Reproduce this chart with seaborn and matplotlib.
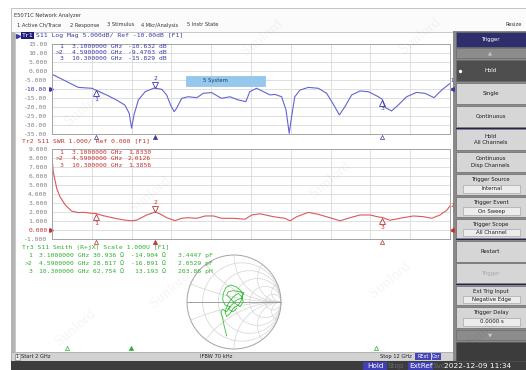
import matplotlib
matplotlib.use("Agg")
import matplotlib.pyplot as plt
from matplotlib.patches import Rectangle, Circle
from matplotlib.transforms import offset_copy, blended_transform_factory
import pandas as pd
import seaborn as sns

# ---------------- data ----------------
logmag_freq = [2.00, 2.21, 2.37, 2.66, 3.00, 3.10, 3.37, 3.62, 3.83, 3.94, 4.00, 4.06, 4.17,
               4.34, 4.55, 4.59, 4.76, 4.88, 4.98, 5.07, 5.13, 5.26, 5.42, 5.64, 5.80, 6.01,
               6.26, 6.47, 6.68, 6.87, 6.97, 7.14, 7.23, 7.48, 7.60, 7.77, 7.88, 7.96, 8.02,
               8.10, 8.23, 8.44, 8.69, 8.90, 9.08, 9.22, 9.36, 9.53, 9.74, 9.95, 10.20, 10.30,
               10.37, 10.53, 10.70, 10.91, 11.16, 11.37, 11.60, 11.79, 12.00]
logmag_db = [-1.8, -4.1, -5.9, -9.1, -9.6, -10.6, -13.3, -16.1, -18.9, -23.5, -31.8, -24.4, -16.1,
             -11.5, -9.6, -9.5, -10.2, -13.3, -18.9, -22.6, -20.7, -15.2, -14.3, -14.8, -12.4, -12.0,
             -15.2, -14.3, -16.1, -17.0, -11.5, -9.6, -10.6, -13.3, -13.0, -14.3, -21.7, -34.6, -25.4,
             -14.3, -10.6, -9.1, -9.6, -12.4, -18.9, -24.4, -19.8, -13.3, -11.1, -11.5, -14.3, -15.8,
             -20.2, -22.2, -18.9, -14.3, -11.9, -12.4, -14.8, -10.6, -6.9]

swr_freq = [2.00, 2.03, 2.12, 2.20, 2.33, 2.49, 2.66, 2.79, 3.00, 3.10, 3.29, 3.58, 3.83, 4.00,
            4.13, 4.38, 4.56, 4.59, 4.71, 4.88, 5.09, 5.26, 5.42, 5.64, 5.85, 6.06, 6.26, 6.56,
            6.85, 7.02, 7.23, 7.56, 7.85, 7.98, 8.15, 8.44, 8.69, 8.98, 9.24, 9.49, 9.74, 9.99,
            10.20, 10.30, 10.49, 10.74, 11.08, 11.33, 11.54, 11.75, 11.92, 12.00]
swr_val = [8.15, 6.5, 4.6, 3.7, 2.8, 2.1, 1.93, 1.97, 1.85, 1.83, 1.59, 1.30, 1.10, 1.02,
           1.10, 1.67, 1.95, 2.01, 1.80, 1.37, 1.04, 1.30, 1.37, 1.30, 1.56, 1.56, 1.30, 1.30,
           1.20, 1.67, 1.80, 1.48, 1.30, 1.02, 1.48, 1.96, 1.74, 1.37, 1.02, 1.37, 1.67, 1.67,
           1.45, 1.39, 1.08, 1.30, 1.56, 1.48, 1.30, 1.67, 2.20, 2.67]

# reflection coefficient path on the Smith chart (real, imag)
smith_re = [-0.156, -0.177, -0.206, -0.227, -0.248, -0.277, -0.241, -0.156, -0.085, -0.191,
            -0.241, -0.227, -0.170, -0.071, 0.043, 0.128, 0.184, 0.163, 0.092, -0.014,
            -0.085, -0.156, -0.191, -0.121, -0.014, 0.092, 0.163, 0.199, 0.128, 0.021,
            -0.085, -0.156, -0.121, -0.014, 0.113, 0.213, 0.163, 0.057, -0.050, -0.121,
            -0.014, 0.057]
smith_im = [-0.723, -0.631, -0.525, -0.418, -0.312, -0.206, -0.156, -0.206, -0.099, -0.064,
            0.043, 0.184, 0.312, 0.362, 0.326, 0.255, 0.184, 0.043, -0.064, -0.135,
            -0.241, -0.312, -0.206, -0.028, 0.113, 0.184, 0.113, 0.007, -0.099, -0.028,
            0.078, 0.149, 0.220, 0.241, 0.220, 0.199, 0.078, 0.043, -0.064, -0.156,
            -0.206, -0.135]

marker_names = ["1", ">2", "3"]
marker_freq = [3.1, 4.59, 10.3]
marker_freq_text = ["3.1000000", "4.5900000", "10.300000"]
marker_db = [-10.632, -9.4703, -15.829]
marker_swr = [1.8330, 2.0126, 1.3856]
marker_r = ["30.936", "28.817", "62.754"]
marker_x = ["-14.904", "-16.891", "13.193"]
marker_lc = ["3.4447 pF", "2.0529 pF", "203.86 pH"]

logmag_ticks = [15, 10, 5, 0, -5, -10, -15, -20, -25, -30, -35]
logmag_labels = ["15.00", "10.00", "5.000", "0.000", "-5.000", "-10.00", "-15.00",
                 "-20.00", "-25.00", "-30.00", "-35.00"]
swr_ticks = [9, 8, 7, 6, 5, 4, 3, 2, 1, 0, -1]
swr_labels = ["9.000", "8.000", "7.000", "6.000", "5.000", "4.000", "3.000", "2.000",
              "1.000", "0.000", "-1.000"]
freq_grid = list(range(2, 13))
smith_r_grid = [0.2, 0.5, 1.0, 2.0, 5.0]
smith_x_grid = [0.2, 0.5, 1.0, 2.0, 5.0]

# ---------------- style ----------------
sns.set_theme(style="white")
plt.rcParams["font.family"] = ["DejaVu Sans"]
MONO = "DejaVu Sans Mono"
UI = "DejaVu Sans"
BLUE_T, BLUE_L = "#3a3aa8", "#6464d2"
RED_T, RED_L = "#c43232", "#d85a5a"
GRN_T, GRN_L = "#2fae2f", "#3cbf3c"
MS = 4.6

W, H = 526, 370
fig = plt.figure(figsize=(W / 100, H / 100), dpi=100)
fig.patch.set_facecolor("white")


def add_ax(l, t, r, b, z=1):
    ax = fig.add_axes([l / W, 1 - b / H, (r - l) / W, (b - t) / H])
    ax.set_zorder(z)
    return ax


def pix_axes(z):
    ax = fig.add_axes([0, 0, 1, 1])
    ax.set_xlim(0, W)
    ax.set_ylim(H, 0)
    ax.axis("off")
    ax.set_zorder(z)
    ax.patch.set_alpha(0)
    return ax


bg = pix_axes(0)
fg = pix_axes(5)


def T(x, y, s, ax=fg, size=MS, color="#222222", family=MONO, ha="left", va="center", **kw):
    ax.text(x, y, s, fontsize=size, color=color, family=family, ha=ha, va=va, **kw)


# ---------------- window frame ----------------
bg.add_patch(Rectangle((11, 8), 520, 370, fc="#fbfbfb", ec="#b8b8b8", lw=0.6))
bg.add_patch(Rectangle((14.5, 32), 438.5, 320, fc="white", ec="#c0c0c0", lw=0.6))
bg.add_patch(Rectangle((11, 32), 3.5, 329, fc="#b4b4b4", ec="none"))
T(14, 15, "E5071C Network Analyzer", size=3.7, family=UI, color="#333333")
for x, s in [(17, "1 Active Ch/Trace"), (70, "2 Response"), (107, "3 Stimulus"),
             (141, "4 Mkr/Analysis"), (187, "5 Instr State")]:
    T(x, 25, s, size=3.7, family=UI, color="#333333")
T(522, 25, "Resize", size=3.7, family=UI, color="#333333", ha="right")

# status bar and bottom bar
bg.add_patch(Rectangle((11, 352), 442, 9, fc="#d2d2d2", ec="#a8a8a8", lw=0.5))
bg.add_patch(Rectangle((15, 353.5), 4.5, 6, fc="#eeeeee", ec="#777777", lw=0.4))
T(17.2, 356.6, "1", size=3.6, family=UI, ha="center")
T(21, 356.6, "Start 2 GHz", size=3.7, family=UI)
T(200, 356.6, "IFBW 70 kHz", size=3.7, family=UI)
T(380, 356.6, "Stop 12 GHz", size=3.7, family=UI)
bg.add_patch(Rectangle((415, 353), 16, 7, fc="#4646b8", ec="none"))
bg.add_patch(Rectangle((432, 353), 9, 7, fc="#4646b8", ec="none"))
T(423, 356.6, "RExt", size=3.5, family=UI, color="white", ha="center")
T(436.5, 356.6, "Cor", size=3.5, family=UI, color="white", ha="center")

bg.add_patch(Rectangle((11, 361), 520, 12, fc="#3c3c3c", ec="none"))
bg.add_patch(Rectangle((363, 361.5), 24, 8.5, fc="#4040b4", ec="none"))
bg.add_patch(Rectangle((408, 361.5), 25, 8.5, fc="#4040b4", ec="none"))
T(375, 366, "Hold", size=5.2, family=UI, color="white", ha="center")
T(395.5, 366, "Stop", size=5.2, family=UI, color="#6a6a6a", ha="center")
T(420.5, 366, "ExtRef", size=5.2, family=UI, color="white", ha="center")
T(438.5, 366, "Svc", size=5.2, family=UI, color="#6a6a6a", ha="center")
T(478, 366, "2022-12-09 11:34", size=5.4, family=UI, color="white", ha="center")

# ---------------- softkey panel ----------------
bg.add_patch(Rectangle((453, 31), 80, 330, fc="#8a8a8a", ec="none"))


def key(top, bot, label, fc="#d6d6d6", tc="#1e1e1e", inset=None):
    bg.add_patch(Rectangle((456, top), 70, bot - top, fc=fc, ec="#6a6a6a", lw=0.5))
    if inset is None:
        T(490.5, (top + bot) / 2, label, ax=bg, size=3.9, family=UI, color=tc,
          ha="center", linespacing=1.5)
    else:
        T(490.5, top + (bot - top) * 0.28, label, ax=bg, size=3.9, family=UI, color=tc,
          ha="center")
        bg.add_patch(Rectangle((463, top + (bot - top) * 0.52), 57, (bot - top) * 0.38,
                               fc="#ececec", ec="#9a9a9a", lw=0.4))
        T(491.5, top + (bot - top) * 0.71, inset, ax=bg, size=3.9, family=UI,
          color=tc, ha="center")


key(32, 47, "Trigger", fc="#2e2e6c", tc="white")
key(48, 58, "\u25b2", fc="#8c8c8c", tc="#c8c8c8")
key(60, 81, "Hold", fc="#4e4e4e", tc="white")
bg.plot([460], [70.5], marker="o", ms=1.4, color="white")
key(83, 104, "Single")
key(106, 127, "Continuous")
bg.add_patch(Rectangle((456, 127.5), 70, 1.2, fc="#23235a", ec="none"))
key(129, 150, "Hold\nAll Channels")
key(152, 172, "Continuous\nDisp Channels")
key(174, 195, "Trigger Source", inset="Internal")
key(197, 217, "Trigger Event", inset="On Sweep")
key(219, 238, "Trigger Scope", inset="All Channel")
bg.add_patch(Rectangle((456, 239.2), 70, 1.2, fc="#23235a", ec="none"))
key(241, 262, "Restart")
key(263, 283, "Trigger", tc="#a8a8a8")
bg.add_patch(Rectangle((456, 283.8), 70, 1.2, fc="#23235a", ec="none"))
key(286, 305, "Ext Trig Input", inset="Negative Edge")
key(307, 328, "Trigger Delay", inset="0.0000 s")
key(330, 340, "\u25bc", fc="#8c8c8c", tc="#c8c8c8")
bg.add_patch(Rectangle((456, 342), 70, 19, fc="#3c3c3c", ec="#555555", lw=0.5))

# ---------------- rectangular traces ----------------
def trace_axes(top, bot, ticks, labels, ref_idx, tcol):
    ax = add_ax(52, top, 450, bot)
    ax.patch.set_alpha(0)
    ax.set_xlim(2, 12)
    ax.set_ylim(ticks[-1], ticks[0])
    ax.set_xticks(freq_grid)
    ax.set_xticklabels([])
    ax.set_yticks(ticks)
    ax.set_yticklabels(labels, family=MONO)
    ax.tick_params(axis="both", length=0, labelsize=MS, pad=3.2)
    for i, lab in enumerate(ax.get_yticklabels()):
        lab.set_color(tcol if i == ref_idx else "#808088")
    ax.grid(True, color="#d9d9d9", lw=0.6)
    for sp in ax.spines.values():
        sp.set_color("#a4a4a4")
        sp.set_linewidth(0.7)
    ax.set_xlabel("")
    ax.set_ylabel("")
    return ax


def draw_markers(ax, mvals, col, tcol, ref):
    for i, (f, v) in enumerate(zip(marker_freq, mvals)):
        num = str(i + 1)
        if i == 1:
            ax.plot([f], [v], transform=offset_copy(ax.transData, fig=fig, y=3.2, units="dots"),
                    marker="v", ms=4.2, mfc="none", mec=tcol, mew=0.6, clip_on=False)
            ax.text(f, v, num, transform=offset_copy(ax.transData, fig=fig, y=9.5, units="dots"),
                    ha="center", va="center", fontsize=MS, color=tcol, family=MONO)
        else:
            ax.plot([f], [v], transform=offset_copy(ax.transData, fig=fig, y=-3.2, units="dots"),
                    marker="^", ms=4.2, mfc="none", mec=tcol, mew=0.6, clip_on=False)
            ax.text(f, v, num, transform=offset_copy(ax.transData, fig=fig, y=-9.5, units="dots"),
                    ha="center", va="center", fontsize=MS, color=tcol, family=MONO)
        bt = blended_transform_factory(ax.transData, ax.transAxes)
        ax.plot([f], [0], transform=offset_copy(bt, fig=fig, y=-2.6, units="dots"),
                marker="^", ms=3.0, mfc=(tcol if i == 1 else "none"), mec=tcol, mew=0.5,
                clip_on=False)
    bt = blended_transform_factory(ax.transAxes, ax.transData)
    ax.plot([0], [ref], transform=offset_copy(bt, fig=fig, x=-1.5, units="dots"),
            marker=">", ms=2.6, color=tcol, clip_on=False)
    ax.plot([1], [ref], transform=offset_copy(bt, fig=fig, x=2.0, units="dots"),
            marker="<", ms=2.6, color=tcol, clip_on=False)


# Tr1: log magnitude
ax1 = trace_axes(44, 134, logmag_ticks, logmag_labels, 5, BLUE_T)
df1 = pd.DataFrame({"freq": logmag_freq, "s11": logmag_db})
sns.lineplot(data=df1, x="freq", y="s11", ax=ax1, color=BLUE_L, lw=0.8, legend=False)
ax1.set_xlabel("")
ax1.set_ylabel("")
draw_markers(ax1, marker_db, BLUE_L, BLUE_T, -10)
ax1.text(logmag_freq[-1], logmag_db[-1], "1", fontsize=3.8, color=BLUE_T, family=MONO,
         ha="left", va="bottom",
         transform=offset_copy(ax1.transData, fig=fig, x=0.5, y=0.5, units="dots"))

# Tr2: SWR
ax2 = trace_axes(149, 239, swr_ticks, swr_labels, 9, RED_T)
df2 = pd.DataFrame({"freq": swr_freq, "swr": swr_val})
sns.lineplot(data=df2, x="freq", y="swr", ax=ax2, color=RED_L, lw=0.8, legend=False)
ax2.set_xlabel("")
ax2.set_ylabel("")
draw_markers(ax2, marker_swr, RED_L, RED_T, 0)
ax2.text(swr_freq[-1], swr_val[-1], "2", fontsize=3.8, color=RED_T, family=MONO,
         ha="left", va="center",
         transform=offset_copy(ax2.transData, fig=fig, x=1, units="dots"))

# Tr3 stimulus strip (marker positions only)
ax3 = add_ax(20, 250, 449, 348)
ax3.axis("off")
ax3.set_xlim(2, 12)
ax3.set_ylim(0, 1)
for i, f in enumerate(marker_freq):
    ax3.plot([f], [0], marker="^", ms=3.0, mfc=(GRN_T if i == 1 else "none"),
             mec=GRN_T, mew=0.5, clip_on=False)

# ---------------- Smith chart ----------------
sax = add_ax(184, 252, 284, 352, z=2)
sax.set_xlim(-1.064, 1.064)
sax.set_ylim(-1.064, 1.064)
sax.set_aspect("equal")
sax.axis("off")
clip = Circle((0, 0), 1, transform=sax.transData)
for r in smith_r_grid:
    c = Circle((r / (1 + r), 0), 1 / (1 + r), fill=False, ec="#d4d4d4", lw=0.5)
    sax.add_patch(c)
    c.set_clip_path(clip)
for xg in smith_x_grid:
    for s in (1, -1):
        c = Circle((1, s / xg), 1 / xg, fill=False, ec="#d4d4d4", lw=0.5)
        sax.add_patch(c)
        c.set_clip_path(clip)
sax.add_patch(Circle((0, 0), 1, fill=False, ec="#a4a4a4", lw=0.7))
sax.plot([-1, 1], [0, 0], color="#909090", lw=0.6)
df3 = pd.DataFrame({"re": smith_re, "im": smith_im})
sns.lineplot(data=df3, x="re", y="im", sort=False, estimator=None, ax=sax,
             color=GRN_L, lw=0.6, legend=False)

# ---------------- trace headers and marker readouts ----------------
fg.plot([17.5], [35.5], marker=">", ms=2.8, color=BLUE_T)
fg.add_patch(Rectangle((21, 32), 13, 7.3, fc="#1e1e78", ec="none"))
T(21.8, 35.7, "Tr1", color="white")
T(36, 35.7, "S11 Log Mag 5.000dB/ Ref -10.00dB [F1]", color=BLUE_T)
T(22, 141, "Tr2 S11 SWR 1.000/ Ref 0.000 [F1]", color=RED_T)
T(22, 247.3, "Tr3 S11 Smith (R+jX) Scale 1.000U [F1]", color=GRN_T)

row_y1 = [46.7, 52.8, 59.0]
row_y2 = [152.3, 158.8, 165.5]
row_y3 = [255.7, 263.8, 271.7]
for i in range(3):
    T(63, row_y1[i], marker_names[i], color=BLUE_T, ha="right")
    T(72, row_y1[i], marker_freq_text[i] + " GHz", color=BLUE_T)
    T(167, row_y1[i], f"{marker_db[i]:.5g} dB", color=BLUE_T, ha="right")

    T(63, row_y2[i], marker_names[i], color=RED_T, ha="right")
    T(72, row_y2[i], marker_freq_text[i] + " GHz", color=RED_T)
    T(128, row_y2[i], f"{marker_swr[i]:.4f}", color=RED_T)

    T(32, row_y3[i], marker_names[i], color=GRN_T, ha="right")
    T(39, row_y3[i], marker_freq_text[i] + " GHz", color=GRN_T)
    T(124, row_y3[i], marker_r[i] + " \u03a9", color=GRN_T, ha="right")
    T(166, row_y3[i], marker_x[i] + " \u03a9", color=GRN_T, ha="right")
    T(213, row_y3[i], marker_lc[i], color=GRN_T, ha="right")

# "5 System" tag
fg.add_patch(Rectangle((186, 75.5), 79, 10, fc="#96c8ee", ec="#7fb6e0", lw=0.4))
T(203, 80.5, "5 System", size=3.8, family=UI, color="#1e3c64")

# faint watermark
for (wx, wy) in [(85, 108), (150, 195), (330, 180), (170, 290), (390, 280),
                 (420, 36), (75, 328), (488, 328), (262, 38)]:
    fg.text(wx, wy, "Sunlord", fontsize=11, rotation=40, color="#000000", alpha=0.045,
            family="Liberation Serif", ha="center", va="center")

fig.savefig("out.png", dpi=100)
